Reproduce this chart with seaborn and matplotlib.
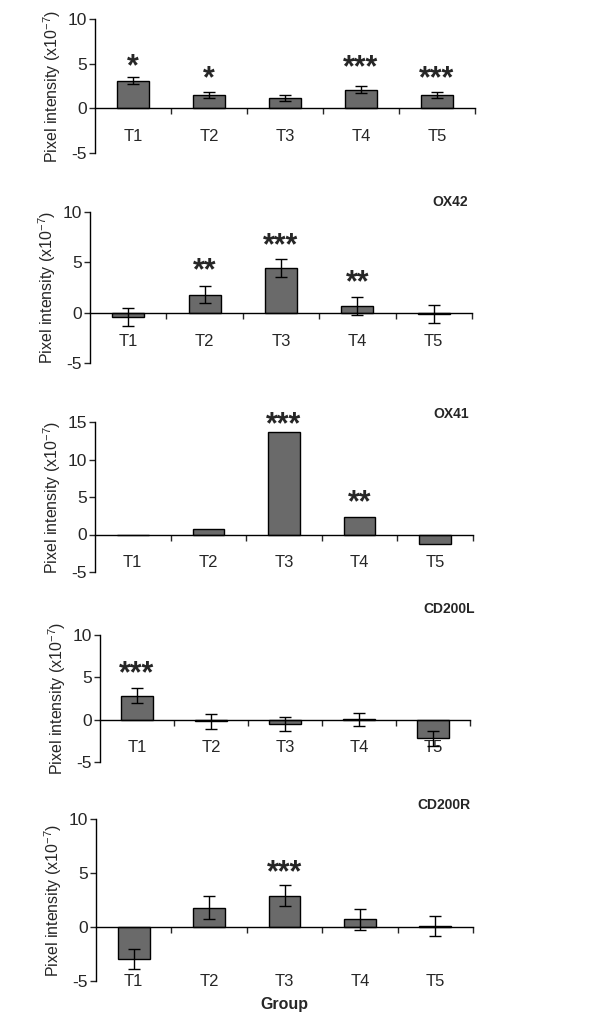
import numpy as np
import matplotlib
matplotlib.use('Agg')
from matplotlib import pyplot as plt
from matplotlib.transforms import offset_copy
import pandas as pd
import seaborn as sns

groups = ['T1', 'T2', 'T3', 'T4', 'T5']

# panel 1 (no title)
p1_mean = [3.1, 1.5, 1.15, 2.1, 1.5]
p1_err = [0.42, 0.35, 0.35, 0.4, 0.35]
p1_stars = ['*', '*', '', '***', '***']
p1_star_y = [5.3, 3.95, 0, 5.15, 3.9]

# OX42
p2_mean = [-0.42, 1.8, 4.45, 0.62, -0.13]
p2_err = [0.9, 0.88, 0.87, 0.9, 0.9]
p2_stars = ['', '**', '***', '**', '']
p2_star_y = [0, 4.75, 7.2, 3.55, 0]

# OX41 (no error bars)
p3_mean = [0.0, 0.8, 13.7, 2.3, -1.25]
p3_err = None
p3_stars = ['', '', '***', '**', '']
p3_star_y = [0, 0, 15.4, 4.95, 0]

# CD200L
p4_mean = [2.85, -0.2, -0.5, 0.05, -2.2]
p4_err = [0.85, 0.85, 0.87, 0.78, 0.9]
p4_stars = ['***', '', '', '', '']
p4_star_y = [6.1, 0, 0, 0, 0]

# CD200R
p5_mean = [-2.95, 1.8, 2.9, 0.7, 0.1]
p5_err = [0.95, 1.07, 1.0, 0.95, 0.95]
p5_stars = ['', '', '***', '', '']
p5_star_y = [0, 0, 5.55, 0, 0]

titles = ['', 'OX42', 'OX41', 'CD200L', 'CD200R']
ylims = [(-5, 10), (-5, 10), (-5, 15), (-5, 10), (-5, 10)]

panels = [
    (p1_mean, p1_err, p1_stars, p1_star_y),
    (p2_mean, p2_err, p2_stars, p2_star_y),
    (p3_mean, p3_err, p3_stars, p3_star_y),
    (p4_mean, p4_err, p4_stars, p4_star_y),
    (p5_mean, p5_err, p5_stars, p5_star_y),
]

sns.set_style('white')
plt.rcParams['font.family'] = ['Liberation Sans Narrow', 'Liberation Sans', 'DejaVu Sans']
plt.rcParams['mathtext.default'] = 'regular'
plt.rcParams['axes.unicode_minus'] = False

W, H = 600, 1014
fig = plt.figure(figsize=(6, 10.14), dpi=100)

# axes boxes in pixels: left, right, top, bottom
boxes = [(95, 475, 19, 153), (90, 472, 212, 363), (95, 473, 422, 572),
         (100, 470, 635, 762), (96, 473, 819, 981)]
title_pos = [None, (468, 202), (469, 414), (475, 609), (470, 805)]

bar_color = '#6a6a6a'
sans = ['Liberation Sans', 'DejaVu Sans']

for i, (mean, err, stars, star_y) in enumerate(panels):
    l, r, t, b = boxes[i]
    ax = fig.add_axes([l / W, 1 - b / H, (r - l) / W, (b - t) / H])
    df = pd.DataFrame({'group': groups, 'value': mean})
    sns.barplot(data=df, x='group', y='value', color=bar_color, saturation=1,
                edgecolor='black', linewidth=1, width=0.42, ax=ax)
    xpos = np.arange(len(groups))
    if err is not None:
        ax.errorbar(xpos, mean, yerr=err, fmt='none', ecolor='black',
                    elinewidth=1, capsize=4, capthick=1, zorder=5)
    # asterisk glyph sits high in its box, so nudge down
    star_tr = offset_copy(ax.transData, fig=fig, y=-6, units='dots')
    for xp, s, sy in zip(xpos, stars, star_y):
        if s:
            ax.text(xp, sy, s, ha='center', va='center', fontsize=22,
                    fontweight='bold', family=sans, transform=star_tr)

    ax.set_xlim(-0.5, 4.5)
    ax.set_ylim(*ylims[i])
    ax.set_yticks(np.arange(ylims[i][0], ylims[i][1] + 1, 5))
    ax.tick_params(axis='y', direction='out', length=4, width=1, labelsize=12.5,
                   left=True, pad=2)
    ax.set_ylabel('Pixel intensity (x10$^{-7}$)', fontsize=11.5, labelpad=3,
                  family=sans)
    ax.set_xlabel('')
    for side in ['top', 'right']:
        ax.spines[side].set_visible(False)
    ax.spines['bottom'].set_position(('data', 0))
    for side in ['left', 'bottom']:
        ax.spines[side].set_color('black')
        ax.spines[side].set_linewidth(1)
    ax.set_xticks(xpos + 0.5, minor=True)
    ax.tick_params(axis='x', which='minor', direction='out', length=4, width=1,
                   bottom=True)
    if i < 4:
        ax.tick_params(axis='x', which='major', length=0, labelsize=12, pad=15)
    else:
        ax.tick_params(axis='x', which='major', length=0, labelbottom=False)
        sec = ax.secondary_xaxis(0.0)
        sec.set_xticks(xpos)
        sec.set_xticklabels(groups)
        sec.tick_params(length=0, labelsize=12, pad=0)
        for lab in sec.get_xticklabels():
            lab.set_va('center')
        sec.spines['bottom'].set_visible(False)
        sec.set_xlabel('Group', fontsize=11.5, fontweight='bold', labelpad=6,
                       family=sans)

    if titles[i]:
        tx, ty = title_pos[i]
        fig.text(tx / W, 1 - ty / H, titles[i], ha='right', va='center',
                 fontsize=10, fontweight='bold', family=sans)

fig.savefig('out.png', dpi=100, facecolor='white')
